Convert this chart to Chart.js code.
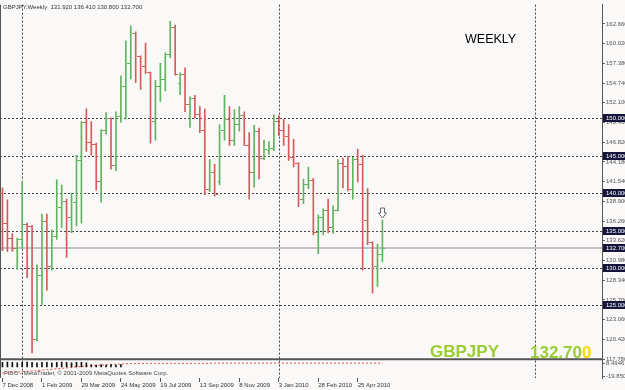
<!DOCTYPE html>
<html>
<head>
<meta charset="utf-8">
<script src="https://cdn.jsdelivr.net/npm/chart.js@4"></script>
<style>
  body { margin: 0; background: #fbf9f8; }
  canvas { display: block; }
</style>
</head>
<body>
<canvas id="chart" width="625" height="390"></canvas>
<script>
// weekly GBPJPY bars, first bar = week of 7 Dec 2008
var opens = [140.0, 136.0, 134.0, 132.6, 133.8, 135.9, 135.6, 120.5, 129.0, 136.3,
  130.2, 134.3, 138.2, 139.0, 136.8, 138.8, 144.5, 149.5, 146.8, 146.6,
  141.6, 148.4, 150.0, 143.8, 150.4, 154.3, 157.4, 161.4, 158.4, 157.0,
  156.2, 149.7, 154.4, 155.3, 158.6, 162.2, 154.8, 155.9, 151.9, 152.7,
  150.6, 148.4, 140.6, 142.8, 141.6, 148.5, 149.9, 147.1, 149.3, 150.5,
  146.5, 142.8, 148.3, 144.7, 145.8, 146.0, 149.6, 148.4, 147.7, 144.9,
  144.0, 139.2, 141.2, 141.8, 134.8, 136.8, 137.8, 135.5, 137.8, 144.1,
  143.6, 140.6, 144.6, 143.9, 136.4, 133.5, 130.2, 131.92];
var highs = [140.7, 139.1, 134.6, 134.0, 141.6, 136.0, 135.7, 130.4, 137.2, 137.2,
  135.1, 141.8, 141.1, 139.2, 140.0, 145.1, 149.6, 151.3, 149.6, 146.7,
  148.5, 150.8, 150.1, 150.9, 155.7, 160.4, 162.4, 161.6, 158.4, 160.1,
  156.2, 155.1, 157.4, 158.8, 163.0, 162.5, 156.1, 156.8, 152.9, 153.1,
  151.6, 151.3, 144.5, 143.9, 149.2, 153.1, 151.6, 151.2, 151.6, 150.9,
  148.1, 149.1, 148.7, 147.1, 146.9, 150.5, 150.4, 149.9, 149.2, 147.2,
  144.1, 141.9, 143.5, 142.0, 137.1, 137.9, 139.2, 138.3, 144.5, 144.7,
  144.9, 144.8, 145.9, 145.1, 140.6, 133.5, 133.2, 136.41];
var lows = [132.3, 132.2, 132.2, 129.8, 132.6, 128.7, 118.6, 120.2, 125.1, 127.0,
  129.7, 133.8, 135.4, 131.4, 134.7, 135.6, 136.0, 145.6, 145.1, 140.4,
  138.8, 147.9, 143.2, 143.0, 149.5, 149.9, 155.3, 154.8, 153.9, 156.0,
  146.7, 147.1, 152.3, 153.7, 158.1, 155.8, 153.2, 150.9, 148.8, 150.1,
  148.1, 139.8, 140.2, 139.6, 141.1, 147.1, 146.4, 146.4, 148.3, 146.4,
  139.2, 140.8, 141.9, 144.5, 145.2, 145.7, 147.7, 146.4, 144.4, 143.5,
  138.2, 138.6, 140.6, 134.4, 131.9, 134.4, 134.7, 134.6, 137.6, 140.7,
  140.3, 139.2, 141.5, 129.7, 133.1, 126.6, 127.5, 130.80];
var closes = [136.0, 134.0, 132.6, 133.8, 135.9, 135.6, 120.5, 129.0, 136.3, 130.2,
  134.3, 138.2, 139.0, 136.8, 138.8, 144.5, 149.5, 146.8, 146.6, 141.6,
  148.4, 150.0, 143.8, 150.4, 154.3, 157.4, 161.4, 158.4, 157.0, 156.2,
  149.7, 154.4, 155.3, 158.6, 162.2, 156.0, 155.9, 151.9, 152.7, 150.6,
  148.4, 140.6, 142.8, 139.9, 148.5, 149.9, 147.1, 149.3, 150.5, 146.5,
  142.8, 148.3, 144.7, 145.9, 146.0, 149.6, 148.4, 147.7, 144.9, 144.0,
  139.2, 141.2, 141.8, 134.8, 136.8, 137.8, 135.5, 137.8, 144.1, 143.6,
  140.6, 144.6, 143.9, 136.4, 133.5, 130.2, 131.9, 132.70];

// indicator sub-window
var subHist = [10, 11, 10, 9, 10, 11, 10, 9, 10, 10, 9, 10, 11, 10, 9, 10, 10, 9,
  5, 4, 5, 4, 5, 4, 5];
var subLine = [-13, -12.5, -12, -11, -10, -9.5, -9, -8, -7, -6, -5, -4, -3, -2, -1, 0,
  1, 2, 3, 3.5, 4, 5, 5.5, 6, 6.5, 7, 7.5, 7.5, 8, 8, 8, 8, 8, 8, 8, 8, 8, 8, 8, 8,
  8, 8, 8, 8.5, 8.5, 8.5, 8.5, 8.5, 8.5, 8.5, 8.5, 8.5, 8.5, 8.5, 8.5, 8.5, 8.5, 8.5,
  8.5, 8.5, 8.5, 8.5, 8.5, 8.5, 8.5, 8.5, 8.5, 8.5, 8.5, 8.5, 8.5, 8.5, 8.5, 8.5, 8.5,
  8.5, 8.5, 8.5];

var priceTicks = [162.66, 160.02, 157.38, 154.74, 152.10, 149.46, 146.82, 144.18,
  141.54, 138.90, 136.26, 133.62, 130.98, 128.34, 125.70, 123.06, 120.42, 117.78];
var subTicks = [8.4946, -19.8508];
var dateTicks = ["7 Dec 2008", "1 Feb 2009", "29 Mar 2009", "24 May 2009", "19 Jul 2009",
  "13 Sep 2009", "8 Nov 2009", "3 Jan 2010", "28 Feb 2010", "25 Apr 2010"];
var levels = [150, 145, 140, 135, 130, 125];
var lastPrice = 132.7;
var separatorWeeks = [4, 56, 108];
var weekSlots = 122;

var upColor = "#5fb45f";
var downColor = "#d65c5c";
var FONT = "Liberation Sans";
var SMALL = 6;

var slots = [];
for (var i = 0; i < weekSlots; i++) slots.push(i);

var rangeData = highs.map(function (h, i) { return [lows[i], h]; });
var barColors = closes.map(function (c, i) { return c >= opens[i] ? upColor : downColor; });

Chart.defaults.font.family = FONT;

var background = {
  id: "background",
  beforeDraw: function (chart) {
    var ctx = chart.ctx;
    ctx.save();
    ctx.fillStyle = "#fbf9f8";
    ctx.fillRect(0, 0, chart.width, chart.height);
    ctx.restore();
  },
  beforeDatasetsDraw: function (chart) {
    var ctx = chart.ctx, x = chart.scales.x, y = chart.scales.y, y2 = chart.scales.y2;
    var area = chart.chartArea;
    ctx.save();
    ctx.lineWidth = 1;
    ctx.strokeStyle = "#444";
    ctx.setLineDash([2, 2]);
    levels.forEach(function (v) {
      var py = Math.round(y.getPixelForValue(v)) + 0.5;
      ctx.beginPath();
      ctx.moveTo(area.left, py);
      ctx.lineTo(area.right, py);
      ctx.stroke();
    });
    separatorWeeks.forEach(function (k) {
      var px = Math.round(x.getPixelForValue(k)) + 0.5;
      ctx.beginPath();
      ctx.moveTo(px, area.top);
      ctx.lineTo(px, y2.bottom);
      ctx.stroke();
    });
    ctx.setLineDash([]);
    ctx.strokeStyle = "#c4c2c8";
    ctx.lineWidth = 2;
    var lp = Math.round(y.getPixelForValue(lastPrice));
    ctx.beginPath();
    ctx.moveTo(area.left, lp);
    ctx.lineTo(area.right, lp);
    ctx.stroke();
    // window separator
    ctx.strokeStyle = "#555";
    ctx.lineWidth = 2;
    ctx.beginPath();
    ctx.moveTo(area.left, y.bottom);
    ctx.lineTo(area.right, y.bottom);
    ctx.stroke();
    ctx.lineWidth = 1;
    ctx.beginPath();
    ctx.moveTo(0.5, area.top);
    ctx.lineTo(0.5, y2.bottom);
    ctx.stroke();
    ctx.restore();
  }
};

var ohlcTicks = {
  id: "ohlcTicks",
  afterDatasetsDraw: function (chart) {
    var ctx = chart.ctx, x = chart.scales.x, y = chart.scales.y;
    ctx.save();
    for (var i = 0; i < opens.length; i++) {
      var px = Math.round(x.getPixelForValue(i));
      ctx.fillStyle = barColors[i];
      ctx.fillRect(px - 2, Math.round(y.getPixelForValue(opens[i])), 2, 1);
      ctx.fillRect(px + 1, Math.round(y.getPixelForValue(closes[i])), 2, 1);
    }
    // arrow above the last bar
    var last = opens.length - 1;
    var ax = Math.round(x.getPixelForValue(last)) + 0.5;
    var ay = Math.round(y.getPixelForValue(highs[last])) - 2;
    ctx.fillStyle = "#ffffff";
    ctx.strokeStyle = "#666";
    ctx.lineWidth = 1;
    ctx.beginPath();
    ctx.moveTo(ax - 2, ay - 10);
    ctx.lineTo(ax + 2, ay - 10);
    ctx.lineTo(ax + 2, ay - 5);
    ctx.lineTo(ax + 4, ay - 5);
    ctx.lineTo(ax, ay);
    ctx.lineTo(ax - 4, ay - 5);
    ctx.lineTo(ax - 2, ay - 5);
    ctx.closePath();
    ctx.fill();
    ctx.stroke();
    ctx.restore();
  },
  afterDraw: function (chart) {
    var ctx = chart.ctx, y = chart.scales.y;
    var area = chart.chartArea;
    ctx.save();
    ctx.font = SMALL + "px " + FONT;
    ctx.textBaseline = "middle";
    levels.concat([lastPrice]).forEach(function (v) {
      var py = Math.round(y.getPixelForValue(v));
      ctx.fillStyle = "#16163c";
      ctx.fillRect(area.right + 1, py - 4, 24, 8);
      ctx.fillStyle = "#ffffff";
      ctx.fillText(v.toFixed(3), area.right + 4, py + 0.5);
    });
    ctx.fillStyle = "#333";
    ctx.fillText("GBPJPY,Weekly  131.920 136.410 130.800 132.700", 3, 7);
    ctx.fillStyle = "#444";
    ctx.fillText("FIDO - MetaTrader, \u00a9 2001-2009 MetaQuotes Software Corp.", 4, 373);
    ctx.fillStyle = "#000";
    ctx.font = "12.5px " + FONT;
    ctx.fillText("WEEKLY", 465, 40);
    ctx.textBaseline = "alphabetic";
    ctx.font = "bold 17px " + FONT;
    ctx.fillStyle = "#9acd32";
    ctx.fillText("GBPJPY", 430, 357);
    ctx.fillText("132.70", 530, 358);
    var w = ctx.measureText("132.70").width;
    ctx.fillStyle = "#ffd700";
    ctx.fillText("0", 530 + w, 358);
    ctx.restore();
  }
};

new Chart(document.getElementById("chart").getContext("2d"), {
  type: "bar",
  data: {
    labels: slots,
    datasets: [
      { data: rangeData, backgroundColor: barColors, barThickness: 1, grouped: false, yAxisID: "y" },
      { data: subHist, backgroundColor: "#111", barThickness: 1, grouped: false, yAxisID: "y2" },
      { type: "line", data: subLine, borderColor: "#e05050", borderWidth: 1, borderDash: [2, 2],
        pointRadius: 0, yAxisID: "y2" }
    ]
  },
  options: {
    responsive: false,
    animation: false,
    layout: { padding: { top: 1 } },
    plugins: { legend: { display: false }, tooltip: { enabled: false } },
    scales: {
      x: {
        offset: true,
        grid: {
          offset: false, drawOnChartArea: false, tickLength: 4,
          color: function (c) { return c.index % 8 === 0 && c.index <= 72 ? "#555" : "rgba(0,0,0,0)"; }
        },
        border: { display: false },
        ticks: {
          autoSkip: false, maxRotation: 0, align: "start", padding: 0,
          font: { size: SMALL }, color: "#333",
          callback: function (v, i) { return i % 8 === 0 && dateTicks[i / 8] ? dateTicks[i / 8] : ""; }
        },
        afterFit: function (s) { s.height = 12; }
      },
      y: {
        position: "right", stack: "v", stackWeight: 357,
        min: 117.78, max: 165.25,
        afterBuildTicks: function (s) { s.ticks = priceTicks.map(function (v) { return { value: v }; }); },
        ticks: { autoSkip: false, font: { size: SMALL }, color: "#555", padding: 1,
          callback: function (v) { return v.toFixed(3); } },
        grid: { drawOnChartArea: false, tickLength: 3, color: "#666" },
        border: { color: "#555" },
        afterFit: function (s) { s.width = 23; }
      },
      y2: {
        position: "right", stack: "v", stackWeight: 19,
        min: -24.2, max: 17.2,
        afterBuildTicks: function (s) { s.ticks = subTicks.map(function (v) { return { value: v }; }); },
        ticks: { autoSkip: false, font: { size: SMALL }, color: "#555", padding: 1,
          callback: function (v) { return String(v); } },
        grid: { drawOnChartArea: false, tickLength: 3, color: "#666" },
        border: { color: "#555" },
        afterFit: function (s) { s.width = 23; }
      }
    }
  },
  plugins: [background, ohlcTicks]
});
</script>
</body>
</html>
